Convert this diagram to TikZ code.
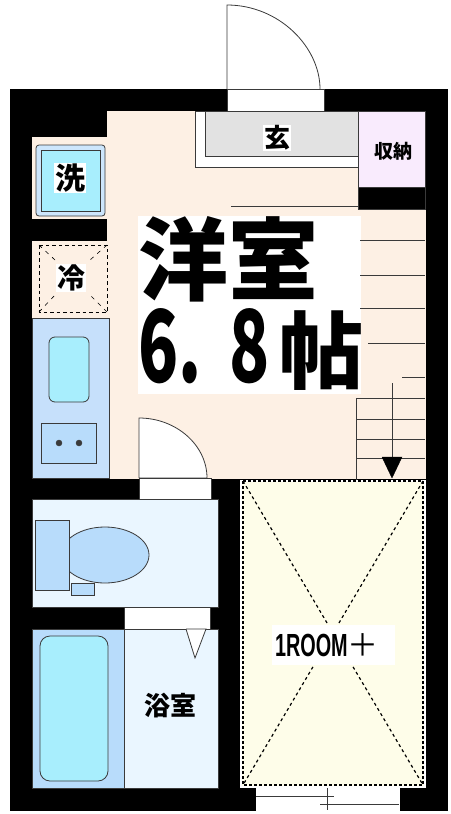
\documentclass[tikz,border=0pt]{standalone}
\usepackage{fontspec}
\usepackage{graphicx}
\setmainfont{Liberation Sans}
\newfontfamily\cjk{Noto Sans CJK JP}[BoldFont={Noto Sans CJK JP Black}]
\definecolor{roomcream}{HTML}{FDF0E4}
\definecolor{wetpale}{HTML}{EAF6FF}
\definecolor{kitchenblue}{HTML}{C6E0FB}
\definecolor{fixtureblue}{HTML}{B8DCFB}
\definecolor{waterblue}{HTML}{A8EEFD}
\definecolor{hallgray}{HTML}{E2E2E2}
\definecolor{closetpink}{HTML}{F9EBFD}
\definecolor{loftyellow}{HTML}{FEFDE9}
\definecolor{inkline}{HTML}{3A3A3A}
\tikzset{
planline/.style={draw=inkline,line width=.8pt},
roomtext/.style={fill=white,inner sep=1pt},
}
\begin{document}
\begin{tikzpicture}[x=1pt,y=-1pt]
\useasboundingbox (0,0) rectangle (450,814);
\filldraw[black] (10,89) rectangle (447,810);
\filldraw[roomcream] (107,111)--(358,111)--(358,209)--(425,209)--(425,478)--(109,478)--(109,318)--(107,318)--(107,111);
\filldraw[roomcream] (32,137) rectangle (107,218);
\filldraw[roomcream] (32,241) rectangle (107,318);
\filldraw[white] (227,89) rectangle (324,111);
\draw[planline,fill=white] (227,89)--(227,5) .. controls (279,5) and (320,47) .. (320,89);
\draw[planline] (227,89)--(324,89)--(324,111)--(227,111)--(227,89);
\draw[planline,fill=white] (195,111) rectangle (358,167);
\draw[planline,fill=hallgray] (205,111) rectangle (358,156);
\draw[planline,fill=closetpink] (358,111) rectangle (425,187);
\draw[planline] (231,206)--(358,206);
\draw[planline,fill=black] (358,187) rectangle (425,209);
\filldraw[white] (138,216) rectangle (360,393);
\draw[planline] (360,240)--(425,240);
\draw[planline] (360,275)--(425,275);
\draw[planline] (360,308)--(425,308);
\draw[planline] (368,343)--(425,343);
\draw[planline] (402,377)--(425,377);
\draw[planline] (356,480)--(356,398)--(425,398);
\draw[planline] (356,419)--(425,419);
\draw[planline] (356,439)--(425,439);
\draw[planline] (356,458)--(425,458);
\draw[planline] (392,383)--(392,460);
\filldraw[black] (382,457)--(402,457)--(392,478)--(382,457);
\draw[planline,fill=fixtureblue!70!white,rounded corners=3pt] (36,145) rectangle (105,216);
\draw[planline,fill=waterblue] (41,150) rectangle (100,211);
\draw[black,line width=.9pt,dash pattern=on 3.5pt off 3pt] (39,245) rectangle (107,312);
\draw[black,line width=.6pt,dash pattern=on 4pt off 5pt] (39,245)--(55,260);
\draw[black,line width=.6pt,dash pattern=on 4pt off 5pt] (107,245)--(90,260);
\draw[black,line width=.6pt,dash pattern=on 4pt off 5pt] (39,312)--(55,295);
\draw[black,line width=.6pt,dash pattern=on 4pt off 5pt] (107,312)--(90,295);
\draw[planline,fill=kitchenblue] (32,318) rectangle (109,478);
\draw[planline,fill=waterblue,rounded corners=6pt] (49,337) rectangle (89,402);
\draw[planline,fill=fixtureblue] (41,423) rectangle (96,463);
\filldraw[inkline] (59,443) circle (3pt);
\filldraw[inkline] (79,443) circle (3pt);
\draw[planline,fill=white] (139,478)--(139,418) .. controls (176,418) and (207,445) .. (207,478)--(139,478);
\draw[planline,fill=white] (139,478) rectangle (211,499);
\draw[planline,fill=wetpale] (32,499) rectangle (218,607);
\draw[planline,fill=fixtureblue] (105,555) ellipse (44 and 28);
\draw[planline,fill=fixtureblue] (35,520) rectangle (69,590);
\draw[planline,fill=fixtureblue] (71,583) rectangle (94,595);
\draw[planline,fill=white] (124,607) rectangle (210,629);
\draw[planline,fill=wetpale] (124,629) rectangle (218,788);
\draw[planline,fill=fixtureblue] (32,629) rectangle (124,788);
\draw[planline,fill=waterblue,rounded corners=10pt] (40,636) rectangle (108,781);
\draw[planline,fill=white] (186,629)--(206,629)--(195,658)--(186,629);
\filldraw[loftyellow,draw=white,line width=2pt] (241,481) rectangle (425,787);
\draw[black,line width=1.2pt,dash pattern=on 3pt off 2pt] (243,481) rectangle (423,785);
\draw[black,line width=1.2pt,dash pattern=on 3pt off 3pt] (243,481)--(423,785);
\draw[black,line width=1.2pt,dash pattern=on 3pt off 3pt] (423,481)--(243,785);
\filldraw[white] (256,788) rectangle (399,810);
\draw[planline] (256,796)--(334,796);
\draw[planline] (320,804)--(399,804);
\draw[planline] (327,788)--(327,810);
\node[roomtext,font=\cjk\bfseries\fontsize{30}{30}\selectfont] (washlabel) at (70,178) {洗};
\node[roomtext,font=\cjk\bfseries\fontsize{28}{28}\selectfont] (fridgelabel) at (71,278) {冷};
\node[roomtext,font=\cjk\bfseries\fontsize{26}{26}\selectfont] (halllabel) at (277,138) {玄};
\node[font=\cjk\bfseries\fontsize{19}{19}\selectfont,inner sep=0pt] (closetlabel) at (393,151) {収納};
\node[font=\cjk\bfseries\fontsize{90}{90}\selectfont,inner sep=0pt] (roomlabel) at (228,259) {洋室};
\node[font=\cjk\bfseries\fontsize{84}{84}\selectfont,inner sep=0pt] (sizelabel) at (251,349) {\scalebox{.66}[1]{\fontsize{100}{100}\selectfont 6.\hspace{42pt}8}\hspace{10pt}帖};
\node[font=\cjk\bfseries\fontsize{26}{26}\selectfont,inner sep=0pt] (bathlabel) at (170,706) {浴室};
\node[fill=white,inner sep=0pt,minimum height=40pt,text width=123pt] (loftlabel) at (333.5,645) {\hspace{3pt}\fontsize{32}{32}\selectfont\bfseries\scalebox{.62}[1]{1ROOM}{\cjk\mdseries\fontsize{31}{31}\selectfont ＋}};
\end{tikzpicture}
\end{document}
